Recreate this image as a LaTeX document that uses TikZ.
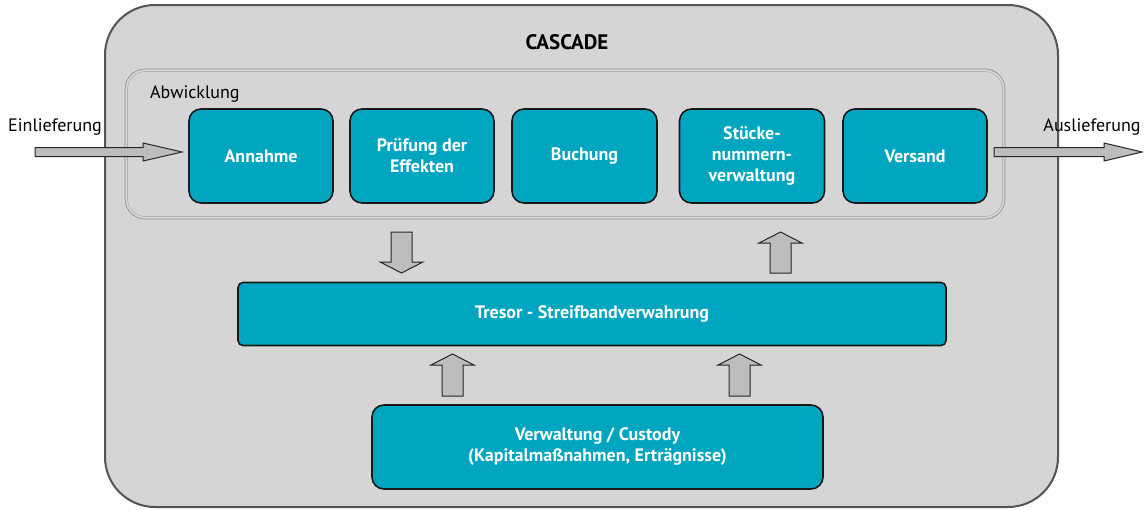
\documentclass[tikz,border=0pt]{standalone}
\usepackage{fontspec}
\setmainfont{PT Sans}
\usetikzlibrary{positioning}
\definecolor{teal}{HTML}{00A6C0}
\definecolor{bg}{HTML}{D5D5D5}
\definecolor{arr}{HTML}{BDBDBD}
\definecolor{frame}{HTML}{555555}
\tikzset{
  box/.style={draw=black!90,line width=1.6pt,fill=teal,rounded corners=12pt,text=white,font=\fontsize{18}{21}\selectfont\bfseries,align=center,inner sep=0pt},
  blockarrow/.style={draw=black!85,line width=1pt,fill=arr,line join=miter},
  lbl/.style={font=\fontsize{18}{21}\selectfont,inner sep=0pt},
}
\begin{document}
\begin{tikzpicture}[x=1pt,y=1pt]
\useasboundingbox (0,0) rectangle (1147,-509);
% outer frame
\draw[frame,line width=2pt,fill=bg,rounded corners=50pt] (105,-5) rectangle (1058,-507);
\node[font=\fontsize{21}{24}\selectfont\bfseries,inner sep=0pt] (title) at (567,-42) {CASCADE};
% Abwicklung frame
\draw[black!45,line width=0.6pt,rounded corners=20pt] (125,-69) rectangle (1005,-219);
\draw[black!30,line width=0.6pt,rounded corners=18pt] (127.5,-71.5) rectangle (1002.5,-216.5);
\node[lbl,anchor=west] (abw) at (150,-94) {Abwicklung};
% top boxes
\node[box,minimum width=144pt,minimum height=94pt] (ann) at (261,-156) {Annahme};
\node[box,minimum width=144pt,minimum height=94pt] (pru) at (422,-156) {Prüfung der\\Effekten};
\node[box,minimum width=145pt,minimum height=94pt] (buc) at (584.5,-156) {Buchung};
\node[box,minimum width=145pt,minimum height=94pt] (stu) at (752,-156) {Stücke-\\nummern-\\verwaltung};
\node[box,minimum width=144pt,minimum height=94pt] (ver) at (915,-156) {Versand};
% Tresor
\node[box,rounded corners=5pt,minimum width=708pt,minimum height=63pt] (tre) at (592,-314) {Tresor - Streifbandverwahrung};
% Custody
\node[box,rounded corners=12pt,minimum width=451pt,minimum height=84pt] (cus) at (597.5,-447) {Verwaltung / Custody\\(Kapitalmaßnahmen, Erträgnisse)};
% external labels
\node[lbl] (ein) at (55,-127) {Einlieferung};
\node[lbl] (aus) at (1092,-127) {Auslieferung};
% Einlieferung arrow
\draw[blockarrow] (35,-147.5) -- (143,-147.5) -- (143,-143) -- (182,-152) -- (143,-161) -- (143,-156.5) -- (35,-156.5) -- cycle;
% Auslieferung arrow
\draw[blockarrow] (994,-147.5) -- (1104,-147.5) -- (1104,-143) -- (1142,-152) -- (1104,-161) -- (1104,-156.5) -- (994,-156.5) -- cycle;
% down arrow (Abwicklung -> Tresor)
\draw[blockarrow] (391,-232) -- (412,-232) -- (412,-262) -- (423,-262) -- (401.5,-273) -- (380,-262) -- (391,-262) -- cycle;
% up arrow (Tresor -> Abwicklung)
\draw[blockarrow] (770,-273) -- (791,-273) -- (791,-243) -- (802,-243) -- (780.5,-232) -- (759,-243) -- (770,-243) -- cycle;
% up arrows (Custody -> Tresor)
\draw[blockarrow] (442,-396) -- (463,-396) -- (463,-365) -- (474,-365) -- (452.5,-354) -- (431,-365) -- (442,-365) -- cycle;
\draw[blockarrow] (729,-396) -- (750,-396) -- (750,-365) -- (761,-365) -- (739.5,-354) -- (718,-365) -- (729,-365) -- cycle;
\end{tikzpicture}
\end{document}
